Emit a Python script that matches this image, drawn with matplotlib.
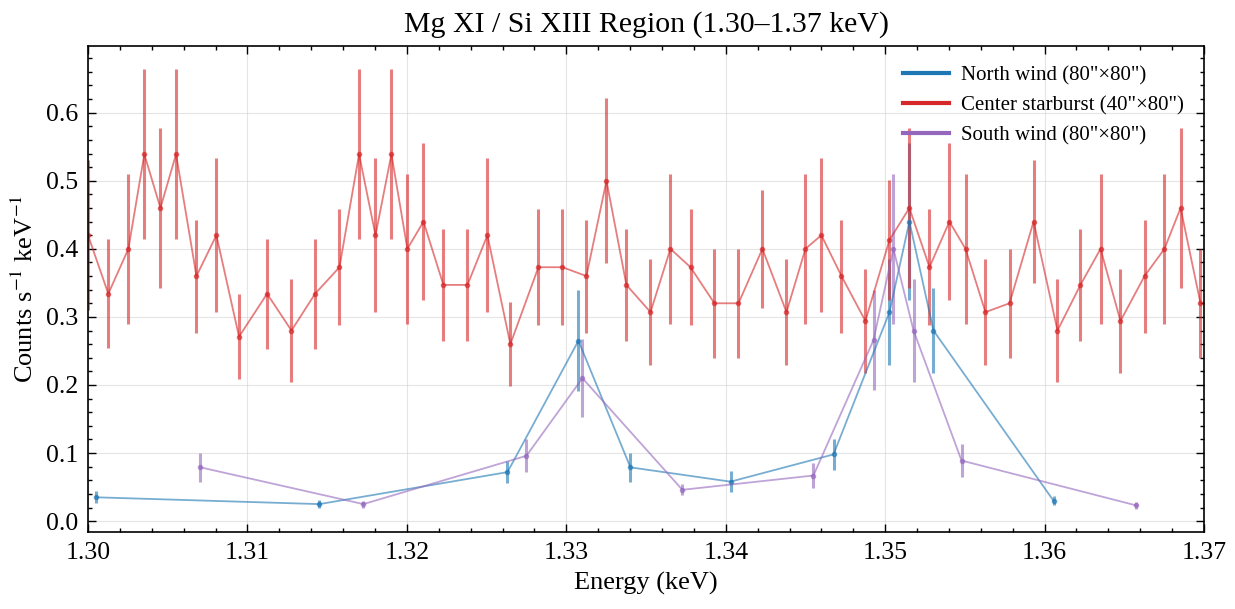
import matplotlib
matplotlib.use("Agg")
import matplotlib.pyplot as plt
from matplotlib.lines import Line2D
from matplotlib.ticker import MultipleLocator, AutoMinorLocator
import numpy as np

plt.rcParams['font.family'] = ['Liberation Serif', 'DejaVu Serif']
plt.rcParams['mathtext.fontset'] = 'stix'

# Center starburst (40"x80")
center_e = [1.30000, 1.30127, 1.30253, 1.30353, 1.30454, 1.30552, 1.30680, 1.30805,
            1.30947, 1.31123, 1.31276, 1.31424, 1.31577, 1.31700, 1.31803, 1.31903,
            1.32003, 1.32104, 1.32229, 1.32380, 1.32505, 1.32649, 1.32825, 1.32976,
            1.33126, 1.33252, 1.33377, 1.33528, 1.33653, 1.33779, 1.33929, 1.34080,
            1.34230, 1.34381, 1.34500, 1.34600, 1.34726, 1.34876, 1.35027, 1.35152,
            1.35278, 1.35403, 1.35504, 1.35629, 1.35780, 1.35931, 1.36081, 1.36225,
            1.36351, 1.36476, 1.36627, 1.36752, 1.36853, 1.36978]
center_r = [0.42, 0.334, 0.40, 0.539, 0.46, 0.539, 0.36, 0.42,
            0.271, 0.334, 0.28, 0.334, 0.373, 0.539, 0.42, 0.539,
            0.40, 0.44, 0.347, 0.347, 0.42, 0.26, 0.373, 0.373,
            0.36, 0.50, 0.347, 0.307, 0.40, 0.373, 0.32, 0.32,
            0.40, 0.307, 0.40, 0.42, 0.36, 0.294, 0.413, 0.46,
            0.373, 0.44, 0.40, 0.307, 0.32, 0.44, 0.28, 0.347,
            0.40, 0.294, 0.36, 0.40, 0.46, 0.32]
center_err = [0.11, 0.08, 0.11, 0.125, 0.118, 0.125, 0.083, 0.113,
              0.062, 0.081, 0.076, 0.081, 0.085, 0.125, 0.113, 0.125,
              0.11, 0.115, 0.082, 0.082, 0.113, 0.062, 0.085, 0.085,
              0.083, 0.121, 0.082, 0.078, 0.11, 0.085, 0.08, 0.08,
              0.087, 0.078, 0.11, 0.113, 0.083, 0.077, 0.088, 0.118,
              0.085, 0.115, 0.11, 0.078, 0.08, 0.09, 0.076, 0.082,
              0.11, 0.077, 0.083, 0.11, 0.118, 0.08]

# North wind (80"x80")
north_e = [1.30052, 1.31451, 1.32631, 1.33076, 1.33402, 1.34030, 1.34676,
           1.35027, 1.35152, 1.35303, 1.36056]
north_r = [0.035, 0.025, 0.072, 0.265, 0.079, 0.058, 0.098,
           0.307, 0.44, 0.28, 0.030]
north_err = [0.009, 0.006, 0.016, 0.074, 0.021, 0.015, 0.023,
             0.078, 0.115, 0.063, 0.007]

# South wind (80"x80")
south_e = [1.30705, 1.31727, 1.32750, 1.33101, 1.33728, 1.34550, 1.34927,
           1.35052, 1.35178, 1.35479, 1.36576]
south_r = [0.079, 0.025, 0.096, 0.21, 0.046, 0.067, 0.266,
           0.40, 0.28, 0.089, 0.023]
south_err = [0.021, 0.005, 0.024, 0.057, 0.008, 0.018, 0.074,
             0.11, 0.076, 0.024, 0.005]

series = [
    ('North wind (80"×80")', north_e, north_r, north_err, '#1f77b4'),
    ('Center starburst (40"×80")', center_e, center_r, center_err, '#d62728'),
    ('South wind (80"×80")', south_e, south_r, south_err, '#9467bd'),
]

fig = plt.figure(figsize=(12.35, 6.09), dpi=100)
ax = fig.add_axes([0.0713, 0.1264, 0.9036, 0.7981])

handles = []
for label, e, r, err, c in series:
    ax.errorbar(e, r, yerr=err, fmt='o-', color=c, ms=3, lw=1.3,
                elinewidth=2.2, capsize=0, alpha=0.6)
    handles.append(Line2D([], [], color=c, lw=3, label=label))

ax.set_xlim(1.30, 1.37)
ax.set_ylim(-0.016, 0.698)
ax.xaxis.set_major_locator(MultipleLocator(0.01))
ax.xaxis.set_minor_locator(AutoMinorLocator(5))
ax.yaxis.set_major_locator(MultipleLocator(0.1))
ax.yaxis.set_minor_locator(AutoMinorLocator(5))
ax.tick_params(which='both', direction='in', top=True, right=True, labelsize=18.5)
ax.tick_params(which='major', length=6, width=1, pad=7)
ax.tick_params(which='minor', length=3, width=1)
for s in ax.spines.values():
    s.set_linewidth(1.2)
ax.grid(True, color='#cccccc', alpha=0.5, lw=0.8)

ax.set_xlabel('Energy (keV)', fontsize=19, labelpad=6)
ax.set_ylabel('Counts s$^{-1}$ keV$^{-1}$', fontsize=19, labelpad=6)
ax.set_title('Mg XI / Si XIII Region (1.30–1.37 keV)', fontsize=21.5, pad=10)
ax.legend(handles=handles, loc='upper right', frameon=False, fontsize=15,
          handlelength=2.2, handletextpad=0.6, labelspacing=0.5,
          borderaxespad=0.55)

fig.savefig('out.png', dpi=100)
